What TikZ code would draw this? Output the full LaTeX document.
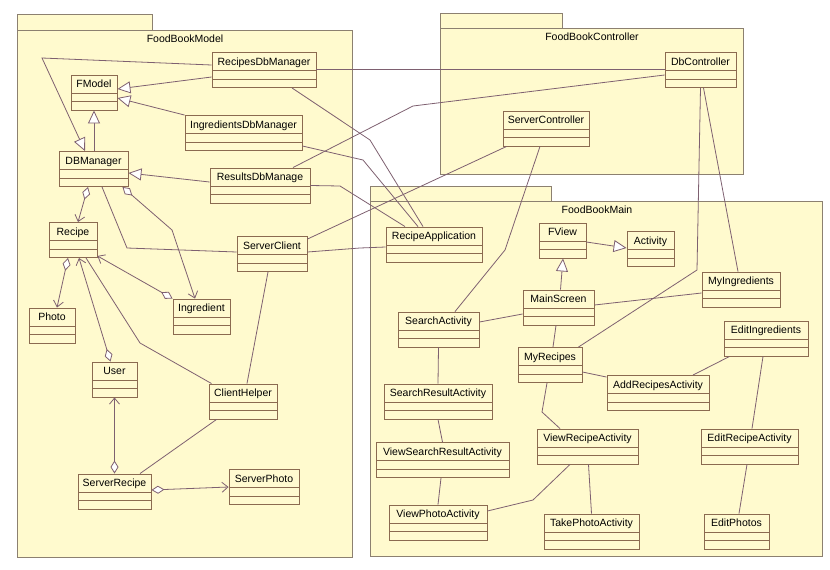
\documentclass[tikz,border=0pt]{standalone}
\usepackage{fontspec}
\setmainfont{Liberation Sans}
\usepackage{tikz}
\usetikzlibrary{arrows.meta}
\usepackage{xcolor}

\definecolor{pkgfill}{RGB}{255,250,206}
\definecolor{pkgline}{RGB}{140,128,112}
\definecolor{clsfill}{RGB}{255,250,208}
\definecolor{clsline}{RGB}{139,106,80}
\definecolor{linkline}{RGB}{126,96,112}

\begin{document}
\begin{tikzpicture}[
  x=1pt, y=-1pt,
  font=\fontsize{10.5}{12}\selectfont,
  pkg/.style={
    draw=pkgline,
    line width=0.9pt,
    fill=pkgfill
  },
  cls/.style={
    draw=clsline,
    line width=0.9pt,
    fill=clsfill,
    inner sep=0pt,
    minimum width=#1,
    minimum height=35pt,
    text height=12.8pt,
    text depth=22.2pt,
    path picture={
      \draw[clsline, line width=0.9pt]
        ([yshift=17pt]path picture bounding box.south west) --
        ([yshift=17pt]path picture bounding box.south east);
      \draw[clsline, line width=0.9pt]
        ([yshift=8.5pt]path picture bounding box.south west) --
        ([yshift=8.5pt]path picture bounding box.south east);
    }
  },
  link/.style={draw=linkline, line width=0.8pt},
  gen/.style={link, -{Triangle[length=13pt, width=12pt, fill=white]}},
  agg/.style={link, {Diamond[length=13pt, width=8pt, fill=white]}-{Straight Barb[length=6pt, width=10pt]}}
]
  \useasboundingbox (0,0) rectangle (830,570);

  % packages
  \draw[pkg] (17,14) rectangle (152,30);
  \draw[pkg] (17,30) rectangle (352,557);
  \node (model) at (185,39) {FoodBookModel};
  \draw[pkg] (440,13) rectangle (562,28);
  \draw[pkg] (440,28) rectangle (743,174);
  \node (controller) at (592,37) {FoodBookController};
  \draw[pkg] (370,186) rectangle (551,201);
  \draw[pkg] (370,201) rectangle (822,556);
  \node (main) at (597,210) {FoodBookMain};

  % FoodBookModel
  \node[cls=104pt] (rdbm) at (264,70) {RecipesDbManager};
  \node[cls=46pt] (fmodel) at (94,92.5) {FModel};
  \node[cls=117pt] (idbm) at (243.5,133) {IngredientsDbManager};
  \node[cls=69pt] (dbm) at (93.5,169) {DBManager};
  \node[cls=100pt] (resdbm) at (260,185.5) {ResultsDbManage};
  \node[cls=48pt] (recipe) at (73,240) {Recipe};
  \node[cls=70pt] (sclient) at (272,254) {ServerClient};
  \node[cls=46pt] (photo) at (52,325.5) {Photo};
  \node[cls=57pt] (ingr) at (201.5,316.5) {Ingredient};
  \node[cls=45pt] (user) at (114.5,379.5) {User};
  \node[cls=68pt] (chelper) at (243,401.5) {ClientHelper};
  \node[cls=73pt] (srecipe) at (114.5,491.5) {ServerRecipe};
  \node[cls=70pt] (sphoto) at (264,487) {ServerPhoto};

  % FoodBookController
  \node[cls=71pt] (dbctrl) at (700.5,70) {DbController};
  \node[cls=86pt] (sctrl) at (546,128.5) {ServerController};

  % FoodBookMain
  \node[cls=96pt] (rapp) at (434,244.5) {RecipeApplication};
  \node[cls=47pt] (fview) at (562.5,240.5) {FView};
  \node[cls=47pt] (activity) at (650.5,249) {Activity};
  \node[cls=78pt] (mying) at (741,289.5) {MyIngredients};
  \node[cls=71pt] (mscreen) at (558.5,307.5) {MainScreen};
  \node[cls=81pt] (search) at (438.5,329.5) {SearchActivity};
  \node[cls=84pt] (editing) at (766,338.5) {EditIngredients};
  \node[cls=64pt] (myrec) at (550,365) {MyRecipes};
  \node[cls=102pt] (addrec) at (658,393) {AddRecipesActivity};
  \node[cls=108pt] (sresult) at (438,401.5) {SearchResultActivity};
  \node[cls=101pt] (viewrec) at (587.5,446.5) {ViewRecipeActivity};
  \node[cls=97pt] (editrec) at (749.5,446.5) {EditRecipeActivity};
  \node[cls=133pt] (vsresult) at (442.5,460) {ViewSearchResultActivity};
  \node[cls=98pt] (vphoto) at (438,522.5) {ViewPhotoActivity};
  \node[cls=95pt] (tphoto) at (591.5,531.5) {TakePhotoActivity};
  \node[cls=65pt] (editph) at (736.5,531.5) {EditPhotos};

  % model relations
  \draw[gen] ([yshift=-7pt]rdbm.west) -- ([yshift=3.5pt]fmodel.east);
  \draw[gen] (idbm.north west) -- ([yshift=-5.5pt]fmodel.east);
  \draw[gen] (dbm.north -| fmodel.south) -- (fmodel.south);
  \draw[gen] ([yshift=5pt]rdbm.west) -- (42,58) -- ([xshift=-8.5pt]dbm.north);
  \draw[gen] ([yshift=3.5pt]resdbm.west) -- ([yshift=-4pt]dbm.east);
  \draw[agg] ([xshift=-5.5pt]dbm.south) -- ([xshift=5pt]recipe.north);
  \draw[agg] ([xshift=-6pt]dbm.south east) -- (172,230) -- ([xshift=-6.5pt]ingr.north);
  \draw[link] ([xshift=8.5pt]dbm.south) -- (127,248) -- ([yshift=2pt]sclient.west);
  \draw[agg] ([xshift=-5pt]recipe.south) -- ([xshift=5pt]photo.north);
  \draw[agg] (ingr.north west) -- ([yshift=2pt]recipe.south east);
  \draw[agg] ([xshift=-4pt]user.north) -- ([xshift=6pt]recipe.south);
  \draw[link] ([xshift=3pt]chelper.north west) -- (140,343) -- ([xshift=13pt]recipe.south);
  \draw[link] ([xshift=-4pt]sclient.south) -- ([xshift=4pt]chelper.north);
  \draw[link] ([xshift=8pt]chelper.south west) -- ([xshift=25.5pt]srecipe.north);
  \draw[agg] (srecipe.north) -- (user.south);
  \draw[agg] ([yshift=1.5pt]srecipe.east) -- (sphoto.west);

  % links between packages
  \draw[link] ([yshift=1pt]rdbm.east) -- ([yshift=1pt]dbctrl.west);
  \draw[link] ([xshift=28pt]rdbm.south) -- (370,140) -- ([xshift=-11pt]rapp.north);
  \draw[link] ([yshift=-13pt]idbm.east) -- (363,160) -- ([xshift=-16pt]rapp.north);
  \draw[link] (resdbm.east) -- (340,186) -- ([xshift=-29pt]rapp.north);
  \draw[link] ([xshift=33pt]resdbm.north) -- (413,106) -- ([yshift=-5pt]dbctrl.west);
  \draw[link] ([yshift=-3pt]sclient.north east) -- ([xshift=4pt]sctrl.south west);
  \draw[link] ([yshift=2pt]sclient.east) -- (360,248) -- ([yshift=-2.5pt]rapp.west);
  \draw[link] ([xshift=-6pt]sctrl.south) -- (505,250) -- ([xshift=16.5pt]search.north);
  \draw[link] (dbctrl.south) -- (697,270) -- ([xshift=-4pt]myrec.north east);
  \draw[link] ([xshift=3pt]dbctrl.south) -- ([xshift=-3pt]mying.north);

  % main relations
  \draw[gen] ([yshift=-1.5pt]fview.east) -- ([yshift=1pt]activity.west);
  \draw[gen] ([xshift=2pt]mscreen.north) -- ([xshift=0.5pt]fview.south);
  \draw[link] ([yshift=2.5pt]mscreen.east) -- ([yshift=-3.5pt]mying.west);
  \draw[link] ([yshift=7.5pt]search.east) -- ([yshift=-6.5pt]mscreen.west);
  \draw[link] ([xshift=-2.5pt]mscreen.south) -- ([xshift=3pt]myrec.north);
  \draw[link] ([yshift=-7pt]myrec.east) -- ([yshift=-2pt]addrec.north west);
  \draw[link] ([xshift=6pt]editing.south west) -- ([xshift=35pt]addrec.north);
  \draw[link] ([xshift=-3pt]editing.south) -- ([xshift=2.5pt]editrec.north);
  \draw[link] ([xshift=-2.5pt]editrec.south) -- ([xshift=2.5pt]editph.north);
  \draw[link] ([xshift=-3pt]myrec.south) -- (542,412) -- ([xshift=-27.5pt]viewrec.north);
  \draw[link] (search.south) -- (sresult.north);
  \draw[link] (sresult.south) -- (vsresult.north);
  \draw[link] ([xshift=-1.5pt]vsresult.south) -- (vphoto.north);
  \draw[link] ([xshift=-17.5pt]viewrec.south) -- (533,500) -- ([yshift=11.5pt]vphoto.east);
  \draw[link] ([xshift=1pt]viewrec.south) -- (tphoto.north);
\end{tikzpicture}
\end{document}
